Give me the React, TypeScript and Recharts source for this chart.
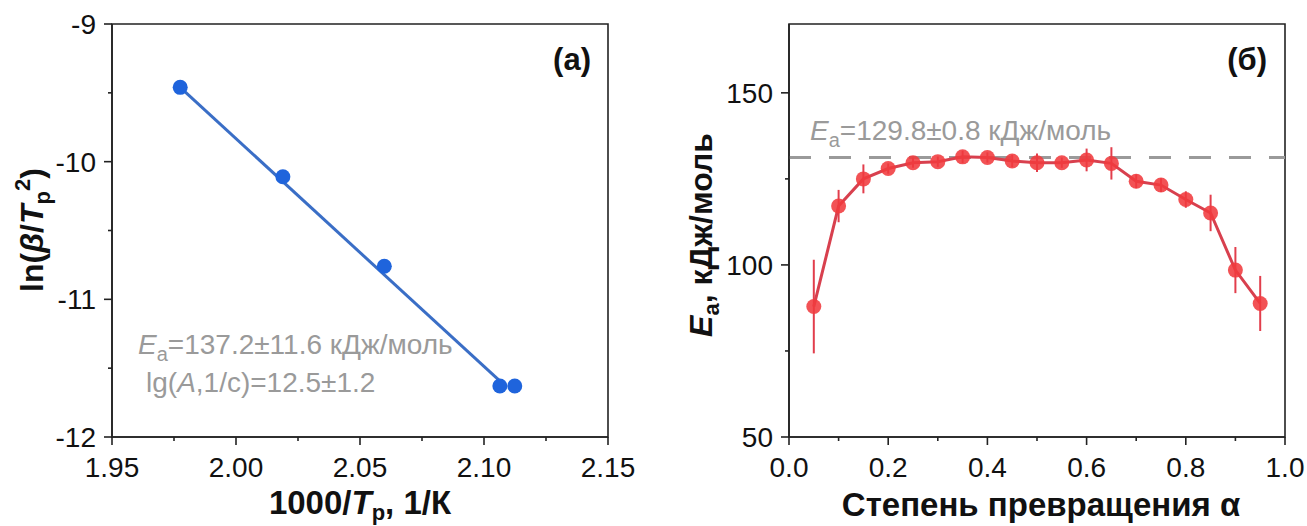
import React from "react";
import {
  ComposedChart,
  ErrorBar,
  Line,
  ReferenceArea,
  ReferenceLine,
  Scatter,
  XAxis,
  YAxis
} from "recharts";

// panel (a): Kissinger plot
const invTp = [1.9775, 2.0189, 2.0598, 2.1064, 2.1124];
const lnBetaT2 = [-9.46, -10.11, -10.76, -11.63, -11.63];
const fitX = [1.9775, 2.108];
const fitY = [-9.46, -11.62];

const xMajorA = [1.95, 2.0, 2.05, 2.1, 2.15];
const xLabelsA = ["1.95", "2.00", "2.05", "2.10", "2.15"];
const xMinorA = [1.975, 2.025, 2.075, 2.125];
const yMajorA = [-12, -11, -10, -9];
const yLabelsA = ["-12", "-11", "-10", "-9"];
const yMinorA = [-11.5, -10.5, -9.5];

// panel (б): activation energy vs conversion
const alpha = [0.05, 0.1, 0.15, 0.2, 0.25, 0.3, 0.35, 0.4, 0.45, 0.5, 0.55, 0.6, 0.65, 0.7, 0.75, 0.8, 0.85, 0.9, 0.95];
const ea = [87.9, 117.1, 125.0, 128.0, 129.7, 130.0, 131.4, 131.2, 130.2, 129.7, 129.7, 130.5, 129.5, 124.3, 123.2, 119.0, 115.1, 98.5, 88.8];
const eaErr = [13.6, 4.7, 4.2, 1.5, 1.5, 1.5, 1.8, 1.5, 1.8, 2.7, 1.5, 3.3, 4.7, 2.0, 2.0, 2.4, 5.3, 6.7, 8.0];
const eaMeanLine = 131.2;

const xMajorB = [0, 0.2, 0.4, 0.6, 0.8, 1.0];
const xLabelsB = ["0.0", "0.2", "0.4", "0.6", "0.8", "1.0"];
const xMinorB = [0.1, 0.3, 0.5, 0.7, 0.9];
const yMajorB = [50, 100, 150];
const yLabelsB = ["50", "100", "150"];
const yMinorB = [75, 125];

const FONT = "'Liberation Sans', Arial, sans-serif";
const AXIS = "#222";
const BLUE = "#1f64dc";
const RED = "#f03a3e";

const pointsA = invTp.map((x, i) => ({ x, y: lnBetaT2[i] }));
const fitA = fitX.map((x, i) => ({ x, y: fitY[i] }));
const rowsB = alpha.map((x, i) => ({ x, e: ea[i], err: eaErr[i] }));

function labelFor(v: number, major: number[], labels: string[]) {
  const i = major.findIndex((m) => Math.abs(m - v) < 1e-6);
  return i >= 0 ? labels[i] : null;
}

function makeXTick(major: number[], labels: string[]) {
  return (props: any) => {
    const { x, y, payload } = props;
    const lab = labelFor(payload.value, major, labels);
    return (
      <g>
        <line x1={x} x2={x} y1={y} y2={y + (lab ? 8 : 4)} stroke={AXIS} strokeWidth={1.6} />
        {lab && (
          <text x={x} y={y + 40} textAnchor="middle" fontSize={28} fontFamily={FONT} fill="#111">
            {lab}
          </text>
        )}
      </g>
    );
  };
}

function makeYTick(major: number[], labels: string[]) {
  return (props: any) => {
    const { x, y, payload } = props;
    const lab = labelFor(payload.value, major, labels);
    return (
      <g>
        <line x1={x - (lab ? 8 : 4)} x2={x} y1={y} y2={y} stroke={AXIS} strokeWidth={1.6} />
        {lab && (
          <text x={x - 16} y={y + 10} textAnchor="end" fontSize={28} fontFamily={FONT} fill="#111">
            {lab}
          </text>
        )}
      </g>
    );
  };
}

function PanelA() {
  return (
    <ComposedChart width={660} height={526} margin={{ top: 24, right: 52, left: 0, bottom: 0 }}>
      <XAxis
        type="number"
        dataKey="x"
        domain={[1.95, 2.15]}
        ticks={[...xMajorA, ...xMinorA].sort((a, b) => a - b)}
        interval={0}
        allowDataOverflow
        height={89}
        tickSize={0}
        tickMargin={0}
        tickLine={false}
        axisLine={{ stroke: AXIS, strokeWidth: 1.6 }}
        tick={makeXTick(xMajorA, xLabelsA)}
      />
      <YAxis
        type="number"
        dataKey="y"
        domain={[-12, -9]}
        ticks={[...yMajorA, ...yMinorA].sort((a, b) => a - b)}
        interval={0}
        allowDataOverflow
        width={112}
        tickSize={0}
        tickMargin={0}
        tickLine={false}
        axisLine={{ stroke: AXIS, strokeWidth: 1.6 }}
        tick={makeYTick(yMajorA, yLabelsA)}
      />
      <ReferenceArea x1={1.95} x2={2.15} y1={-12} y2={-9} fill="none" stroke={AXIS} strokeWidth={1.6} ifOverflow="visible" />
      <Line data={fitA} dataKey="y" stroke="#3a6ec6" strokeWidth={3} dot={false} isAnimationActive={false} />
      <Scatter
        data={pointsA}
        dataKey="y"
        fill={BLUE}
        isAnimationActive={false}
        shape={(p: any) => <circle cx={p.cx} cy={p.cy} r={7.5} fill={BLUE} />}
      />
    </ComposedChart>
  );
}

function PanelB() {
  return (
    <ComposedChart width={647} height={526} data={rowsB} margin={{ top: 24, right: 22, left: 0, bottom: 0 }}>
      <XAxis
        type="number"
        dataKey="x"
        domain={[0, 1]}
        ticks={[...xMajorB, ...xMinorB].sort((a, b) => a - b)}
        interval={0}
        allowDataOverflow
        height={89}
        tickSize={0}
        tickMargin={0}
        tickLine={false}
        axisLine={{ stroke: AXIS, strokeWidth: 1.6 }}
        tick={makeXTick(xMajorB, xLabelsB)}
      />
      <YAxis
        type="number"
        domain={[50, 170]}
        ticks={[...yMajorB, ...yMinorB].sort((a, b) => a - b)}
        interval={0}
        allowDataOverflow
        width={129}
        tickSize={0}
        tickMargin={0}
        tickLine={false}
        axisLine={{ stroke: AXIS, strokeWidth: 1.6 }}
        tick={makeYTick(yMajorB, yLabelsB)}
      />
      <ReferenceArea x1={0} x2={1} y1={50} y2={170} fill="none" stroke={AXIS} strokeWidth={1.6} ifOverflow="visible" />
      <ReferenceLine y={eaMeanLine} stroke="#9a9a9a" strokeWidth={3} strokeDasharray="22 18" />
      <Line
        dataKey="e"
        stroke="#d8404e"
        strokeWidth={3}
        isAnimationActive={false}
        dot={(p: any) => <circle key={p.index} cx={p.cx} cy={p.cy} r={7.5} fill={RED} fillOpacity={0.88} />}
      >
        <ErrorBar dataKey="err" direction="y" width={0} stroke="#e23e4c" strokeWidth={2} isAnimationActive={false} />
      </Line>
    </ComposedChart>
  );
}

function Texts() {
  const gray = "#9a9a9a";
  return (
    <svg
      width={1307}
      height={526}
      style={{ position: "absolute", left: 0, top: 0, pointerEvents: "none" }}
      fontFamily={FONT}
    >
      {/* panel labels */}
      <text x={591} y={70} textAnchor="end" fontSize={31} fontWeight="bold" fill="#111">(a)</text>
      <text x={1267} y={70} textAnchor="end" fontSize={31} fontWeight="bold" fill="#111">(б)</text>

      {/* fit results */}
      <text x={138} y={354} fontSize={28} fill={gray}>
        <tspan fontStyle="italic">E</tspan>
        <tspan fontSize={20} dy={7}>a</tspan>
        <tspan dy={-7}>=137.2±11.6 кДж/моль</tspan>
      </text>
      <text x={146} y={392} fontSize={28} fill={gray}>
        lg(<tspan fontStyle="italic">A</tspan>,1/с)=12.5±1.2
      </text>
      <text x={810} y={140} fontSize={28} fill={gray}>
        <tspan fontStyle="italic">E</tspan>
        <tspan fontSize={20} dy={7}>a</tspan>
        <tspan dy={-7}>=129.8±0.8 кДж/моль</tspan>
      </text>

      {/* axis titles */}
      <text x={360} y={514} textAnchor="middle" fontSize={33} fontWeight="bold" fill="#111">
        1000/<tspan fontStyle="italic">T</tspan>
        <tspan fontSize={22} dy={6}>p</tspan>
        <tspan dy={-6}>, 1/К</tspan>
      </text>
      <text x={1041} y={516} textAnchor="middle" fontSize={33} fontWeight="bold" fill="#111">
        Степень превращения α
      </text>
      <text transform="translate(43,230) rotate(-90)" textAnchor="middle" fontSize={32} fontWeight="bold" fill="#111">
        ln(<tspan fontStyle="italic">β</tspan>/<tspan fontStyle="italic">T</tspan>
        <tspan fontSize={22} dy={7}>p</tspan>
        <tspan fontSize={22} dy={-20}>2</tspan>
        <tspan dy={13}>)</tspan>
      </text>
      <text transform="translate(712,235) rotate(-90)" textAnchor="middle" fontSize={32} fontWeight="bold" fill="#111">
        <tspan fontStyle="italic">E</tspan>
        <tspan fontSize={22} dy={7}>a</tspan>
        <tspan dy={-7}>, кДж/моль</tspan>
      </text>
    </svg>
  );
}

export default function App() {
  return (
    <div style={{ position: "absolute", left: 0, top: 0, width: 1307, height: 526, background: "#fff" }}>
      <div style={{ position: "absolute", left: 0, top: 0 }}>
        <PanelA />
      </div>
      <div style={{ position: "absolute", left: 660, top: 0 }}>
        <PanelB />
      </div>
      <Texts />
    </div>
  );
}
